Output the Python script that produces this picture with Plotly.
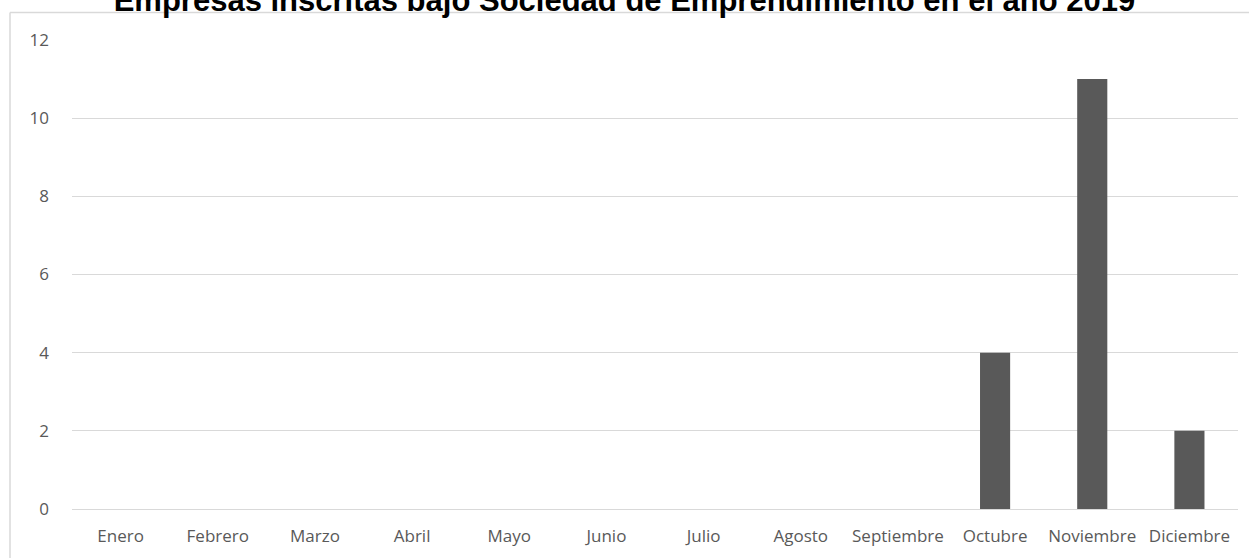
import plotly.graph_objects as go

# Monthly registrations under "Sociedad de Emprendimiento"
meses = ["Enero", "Febrero", "Marzo", "Abril", "Mayo", "Junio", "Julio",
         "Agosto", "Septiembre", "Octubre", "Noviembre", "Diciembre"]
empresas = [0, 0, 0, 0, 0, 0, 0, 0, 0, 4, 11, 2]
y_ticks = [0, 2, 4, 6, 8, 10, 12]

W, H = 1249, 558
M_L, M_R, M_T, M_B = 72, 11, 40, 49
plot_w = W - M_L - M_R
plot_h = H - M_T - M_B


def px_x(p):
    return (p - M_L) / plot_w


def px_y(p):
    return (H - M_B - p) / plot_h


fig = go.Figure(
    go.Bar(
        x=meses,
        y=empresas,
        marker=dict(color="#595959", line=dict(width=0)),
        hoverinfo="x+y",
    )
)

fig.update_layout(
    width=W,
    height=H,
    margin=dict(l=M_L, r=M_R, t=M_T, b=M_B),
    paper_bgcolor="white",
    plot_bgcolor="white",
    bargap=0.69,
    showlegend=False,
    font=dict(family="Open Sans", size=17, color="#595959"),
    title=dict(
        text="<b>Empresas inscritas bajo Sociedad de Emprendimiento en el año 2019</b>",
        x=0.5,
        xref="container",
        xanchor="center",
        y=(H - 11) / H,
        yref="container",
        yanchor="bottom",
        font=dict(family="Liberation Sans, Arial", size=31, color="black"),
    ),
    xaxis=dict(
        showgrid=False,
        showline=False,
        zeroline=False,
        ticks="",
        tickfont=dict(family="Open Sans", size=17, color="#595959"),
        ticklabelstandoff=15,
    ),
    yaxis=dict(
        range=[0, 12],
        tickvals=y_ticks,
        showgrid=True,
        gridcolor="#d9d9d9",
        gridwidth=1,
        zeroline=True,
        zerolinecolor="#d9d9d9",
        zerolinewidth=1,
        showline=False,
        ticks="",
        tickfont=dict(family="Open Sans", size=17, color="#595959"),
        ticklabelstandoff=22,
    ),
    shapes=[
        # chart frame (left and top edges)
        dict(type="line", xref="paper", yref="paper",
             x0=px_x(10), x1=px_x(10), y0=px_y(12.5), y1=px_y(H + 5),
             line=dict(color="#d9d9d9", width=1.5)),
        dict(type="line", xref="paper", yref="paper",
             x0=px_x(10), x1=px_x(W + 5), y0=px_y(12.5), y1=px_y(12.5),
             line=dict(color="#d9d9d9", width=1.5)),
    ],
)

fig.write_html("out.html")
